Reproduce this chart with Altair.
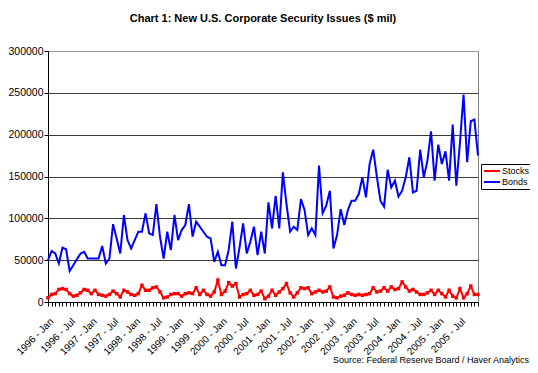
import altair as alt
import pandas as pd

TITLE = "Chart 1: New U.S. Corporate Security Issues ($ mil)"
SOURCE = "Source: Federal Reserve Board / Haver Analytics"

YEARS = [1996, 1997, 1998, 1999, 2000, 2001, 2002, 2003, 2004, 2005]
MONTHS = ["Jan", "Feb", "Mar", "Apr", "May", "Jun",
          "Jul", "Aug", "Sep", "Oct", "Nov", "Dec"]
LABELS = [f"{y} - {m}" for y in YEARS for m in MONTHS]

SERIES = ["Stocks", "Bonds"]
COLORS = ["#FF0000", "#0000FF"]

BONDS = [
    50000, 61000, 58000, 46000, 65000, 63000, 37000, 44000, 51000, 58000, 60000, 52000,
    52000, 52000, 52000, 67000, 46000, 52000, 93000, 76000, 58000, 104000, 74000, 64000,
    74000, 84000, 84000, 106000, 82000, 80000, 117000, 78000, 52000, 84000, 62000, 104000,
    74000, 86000, 92000, 117000, 78000, 96000, 90000, 84000, 78000, 76000, 48000, 60000,
    44000, 44000, 62000, 96000, 40000, 65000, 94000, 58000, 72000, 90000, 56000, 84000,
    58000, 119000, 88000, 127000, 88000, 155000, 117000, 84000, 90000, 86000, 123000, 110000,
    80000, 88000, 80000, 163000, 106000, 115000, 133000, 64000, 80000, 111000, 92000, 110000,
    121000, 121000, 129000, 149000, 125000, 165000, 182000, 150000, 121000, 114000, 158000, 137000,
    145000, 126000, 133000, 149000, 173000, 131000, 133000, 182000, 149000, 169000, 204000, 145000,
    188000, 165000, 180000, 145000, 212000, 139000, 190000, 248000, 167000, 216000, 218000, 175000,
]

STOCKS = [
    5000, 9000, 10000, 15000, 16000, 15000, 10000, 7000, 8000, 11000, 15000, 14000,
    10000, 14000, 9000, 8000, 7000, 9000, 13000, 10000, 6000, 14000, 12000, 9000,
    8000, 10000, 20000, 14000, 14000, 17000, 18000, 12000, 5000, 6000, 9000, 10000,
    10000, 7000, 10000, 11000, 10000, 17000, 9000, 14000, 9000, 7000, 12000, 26000,
    9000, 13000, 23000, 19000, 22000, 6000, 9000, 10000, 14000, 8000, 9000, 13000,
    4000, 7000, 14000, 8000, 12000, 16000, 22000, 11000, 6000, 11000, 17000, 16000,
    17000, 10000, 12000, 14000, 12000, 13000, 18000, 6000, 5000, 7000, 8000, 11000,
    9000, 8000, 9000, 8000, 9000, 10000, 17000, 12000, 13000, 17000, 13000, 18000,
    15000, 16000, 24000, 18000, 13000, 15000, 12000, 9000, 9000, 11000, 14000, 9000,
    14000, 10000, 6000, 14000, 7000, 5000, 16000, 5000, 10000, 19000, 9000, 9000,
]

Y_TICKS = [0, 50000, 100000, 150000, 200000, 250000, 300000]

FONT = "Liberation Sans"

df = pd.concat([
    pd.DataFrame({"month": LABELS, "value": STOCKS, "series": "Stocks"}),
    pd.DataFrame({"month": LABELS, "value": BONDS, "series": "Bonds"}),
], ignore_index=True)

x_enc = alt.X(
    "month:O",
    sort=LABELS,
    scale=alt.Scale(type="point", padding=0),
    axis=alt.Axis(
        title=None,
        labelAngle=-45,
        labelAlign="right",
        labelBaseline="top",
        labelExpr="(indexof(datum.label, 'Jan') >= 0 || indexof(datum.label, 'Jul') >= 0) ? datum.label : ''",
        labelOverlap=False,
        labelFont=FONT,
        labelFontSize=10,
        labelColor="black",
        labelPadding=10,
        domainColor="black",
        tickColor="black",
        tickSize=4,
        grid=False,
    ),
)

y_enc = alt.Y(
    "value:Q",
    scale=alt.Scale(domain=[0, 300000], nice=False),
    axis=alt.Axis(
        title=None,
        values=Y_TICKS,
        format="d",
        labelFont=FONT,
        labelFontSize=10.5,
        labelColor="black",
        labelPadding=1,
        domainColor="black",
        tickColor="black",
        tickSize=4,
        grid=True,
        gridColor={"condition": {"test": "datum.value === 300000", "value": "#9a9a9a"}, "value": "#3a3a3a"},
        gridOpacity=1,
        gridWidth=1,
    ),
)

color_enc = alt.Color(
    "series:N",
    scale=alt.Scale(domain=SERIES, range=COLORS),
    legend=alt.Legend(
        title=None,
        orient="none",
        legendX=433,
        legendY=113,
        symbolType="stroke",
        symbolStrokeWidth=2,
        symbolSize=256,
        clipHeight=10,
        labelFont=FONT,
        labelFontSize=9,
        labelColor="black",
        strokeColor="black",
        padding=2,
        rowPadding=1,
        labelOffset=1,
        fillColor="white",
    ),
)

lines = alt.Chart(df).mark_line(strokeWidth=2).encode(
    x=x_enc, y=y_enc, color=color_enc, order=alt.Order("series:N")
)

points = alt.Chart(df).transform_filter(
    alt.datum.series == "Stocks"
).mark_square(size=12, filled=True, opacity=1).encode(
    x=x_enc, y=y_enc, color=color_enc
)

source = alt.Chart(pd.DataFrame({"t": [SOURCE]})).mark_text(
    align="right", baseline="middle", font=FONT, fontSize=9, color="black"
).encode(text="t:N", x=alt.value(481), y=alt.value(309))

chart = alt.layer(lines, points, source).properties(
    width=430,
    height=251,
    title=alt.TitleParams(
        TITLE, font=FONT, fontSize=11, fontWeight="bold", color="black",
        anchor="middle", offset=22,
    ),
    autosize=alt.AutoSizeParams(type="none"),
    padding={"left": 40, "top": 43, "right": 52, "bottom": 63},
    background="white",
).configure_view(stroke="#808080", strokeWidth=1)

chart.save("out.html", embed_options={"renderer": "svg", "actions": False})
